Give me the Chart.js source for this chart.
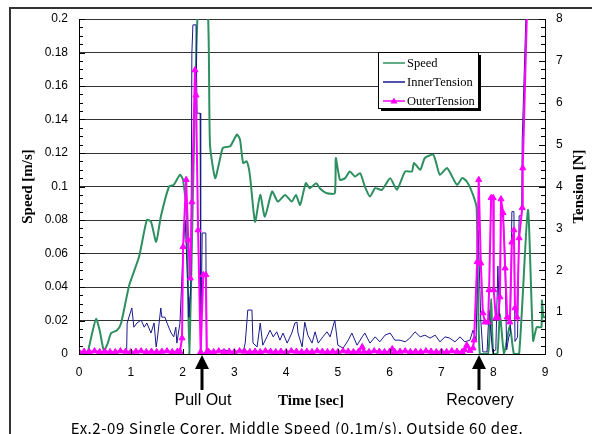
<!DOCTYPE html>
<html>
<head>
<meta charset="utf-8">
<script src="https://cdn.jsdelivr.net/npm/chart.js"></script>
<style>
  body { margin: 0; background: #fff; }
  #wrap { width: 592px; height: 434px; }
</style>
</head>
<body>
<div id="wrap"><canvas id="chart" width="592" height="434"></canvas></div>
<script>
// tick labels
const timeTicks = ['0', '1', '2', '3', '4', '5', '6', '7', '8', '9'];
const speedTicks = ['0', '0.02', '0.04', '0.06', '0.08', '0.1', '0.12', '0.14', '0.16', '0.18', '0.2'];
const tensionTicks = ['0', '1', '2', '3', '4', '5', '6', '7', '8'];

// Speed [m/s]
const speedTime = [0, 0.15, 0.25, 0.33, 0.40, 0.48, 0.55, 0.62, 0.73, 0.81, 0.97, 1.16, 1.31, 1.39, 1.49, 1.58, 1.74, 1.83, 1.95, 2.01,
    2.08, 2.13, 2.30, 2.48, 2.53, 2.63, 2.72, 2.78, 2.92, 3.05, 3.11, 3.17, 3.24, 3.30, 3.40, 3.50, 3.59, 3.73, 3.84, 3.98,
    4.11, 4.19, 4.27, 4.38, 4.46, 4.58, 4.65, 4.79, 4.94, 4.96, 5.04, 5.14, 5.23, 5.33, 5.43, 5.52, 5.62, 5.72, 5.85, 6.01,
    6.14, 6.30, 6.43, 6.47, 6.59, 6.68, 6.84, 6.89, 6.97, 7.11, 7.30, 7.40, 7.49, 7.61, 7.68, 7.74, 7.90, 7.96, 8.00, 8.08,
    8.13, 8.21, 8.32, 8.40, 8.50, 8.67, 8.77, 8.84, 8.93, 8.94, 8.97, 9.00];
const speedValue = [0, 0, 0.012, 0.021, 0.014, 0.002, 0.006, 0.0125, 0.014, 0.018, 0.041, 0.058, 0.080, 0.079, 0.067, 0.082, 0.100, 0.101, 0.107, 0.104,
    0.082, 0, 0.21, 0.21, 0.125, 0.105, 0.116, 0.123, 0.124, 0.131, 0.128, 0.114, 0.115, 0.107, 0.079, 0.095, 0.082, 0.097, 0.091, 0.095,
    0.091, 0.095, 0.089, 0.102, 0.099, 0.102, 0.099, 0.096, 0.096, 0.117, 0.104, 0.105, 0.109, 0.106, 0.108, 0.100, 0.094, 0.099, 0.098, 0.105,
    0.098, 0.109, 0.109, 0.114, 0.110, 0.117, 0.119, 0.115, 0.107, 0.111, 0.101, 0.105, 0.103, 0.095, 0.087, 0, 0, 0.033, 0, 0,
    0.024, 0, 0.017, 0, 0, 0.086, 0.008, 0.016, 0.016, 0.032, 0.022, 0.022];

// InnerTension [N]
const innerTime = [0, 0.5, 0.92, 0.93, 1.02, 1.06, 1.12, 1.20, 1.26, 1.31, 1.39, 1.45, 1.49, 1.51, 1.58, 1.60, 1.66, 1.70, 1.78, 1.83,
    1.87, 1.89, 1.95, 2.01, 2.05, 2.11, 2.12, 2.16, 2.18, 2.20, 2.26, 2.28, 2.34, 2.35, 2.38, 2.45, 2.46, 2.6, 2.8, 3.0,
    3.18, 3.21, 3.26, 3.34, 3.36, 3.44, 3.50, 3.55, 3.63, 3.69, 3.75, 3.82, 3.88, 3.94, 4.02, 4.11, 4.17, 4.21, 4.23, 4.31,
    4.36, 4.42, 4.50, 4.56, 4.62, 4.71, 4.79, 4.85, 4.94, 5.00, 5.10, 5.20, 5.27, 5.37, 5.47, 5.52, 5.62, 5.72, 5.81, 5.91,
    6.01, 6.10, 6.20, 6.30, 6.39, 6.49, 6.59, 6.68, 6.78, 6.88, 6.97, 7.07, 7.16, 7.26, 7.36, 7.45, 7.55, 7.61, 7.67, 7.71,
    7.76, 7.80, 7.88, 7.92, 7.95, 7.99, 8.05, 8.09, 8.12, 8.15, 8.19, 8.22, 8.26, 8.30, 8.33, 8.36, 8.40, 8.42, 8.47, 8.50,
    8.55, 8.56, 8.63, 8.75, 8.80];
const innerValue = [0.05, 0.05, 0.05, 0.74, 1.10, 0.64, 0.74, 0.81, 0.64, 0.74, 0.50, 0.74, 0.17, 0.33, 1.10, 0.88, 0.88, 0.74, 0.50, 0.41,
    0.64, 0.26, 0.74, 2.48, 3.20, 1.36, 0.88, 1.60, 7.19, 7.86, 7.86, 5.75, 5.75, 0.10, 2.89, 2.89, 0.10, 0.05, 0.10, 0.05,
    0.10, 0.26, 1.05, 1.05, 0.26, 0.17, 0.74, 0.21, 0.41, 0.57, 0.41, 0.53, 0.33, 0.50, 0.26, 0.50, 0.74, 0.76, 0.50, 0.17,
    0.76, 0.45, 0.26, 0.53, 0.26, 0.41, 0.53, 0.41, 0.81, 0.21, 0.14, 0.33, 0.50, 0.21, 0.41, 0.50, 0.26, 0.41, 0.29, 0.45,
    0.50, 0.33, 0.33, 0.29, 0.38, 0.53, 0.41, 0.45, 0.38, 0.45, 0.29, 0.41, 0.38, 0.29, 0.41, 0.29, 0.33, 0.57, 0.33, 2.96,
    0.81, 0.05, 0.05, 1.05, 0.60, 0.05, 0.10, 2.10, 0.90, 3.30, 3.30, 2.60, 0.10, 0.40, 0.50, 3.40, 3.40, 0.30, 0.40, 3.30,
    3.30, 5.10, 8.00, 8.05, 8.60];

// OuterTension [N]
const outerTime = [0, 0.1, 0.2, 0.3, 0.4, 0.5, 0.6, 0.7, 0.8, 0.9, 1.0, 1.1, 1.2, 1.3, 1.4, 1.5, 1.6, 1.7, 1.8, 1.9,
    1.95, 1.99, 2.01, 2.07, 2.11, 2.15, 2.18, 2.24, 2.26, 2.30, 2.35, 2.40, 2.45, 2.47,
    2.5, 2.6, 2.7, 2.8, 2.9, 3.0, 3.1, 3.2, 3.3, 3.4, 3.5, 3.6, 3.7, 3.8, 3.9, 4.0, 4.1, 4.2, 4.3, 4.4,
    4.5, 4.6, 4.7, 4.8, 4.9, 5.0, 5.1, 5.2, 5.3, 5.4, 5.47, 5.5, 5.6, 5.7, 5.8, 5.9, 6.0, 6.05, 6.1, 6.2,
    6.3, 6.4, 6.5, 6.6, 6.7, 6.8, 6.9, 7.0, 7.1, 7.2, 7.3, 7.4, 7.45, 7.49, 7.55, 7.61, 7.63, 7.69, 7.72, 7.76,
    7.80, 7.84, 7.90, 7.92, 7.96, 8.00, 8.01, 8.05, 8.09, 8.13, 8.15, 8.19, 8.23, 8.27, 8.32, 8.36, 8.40, 8.42, 8.46, 8.50,
    8.56, 8.57, 8.65, 9.00];
const outerValue = [0.05, 0.06, 0.05, 0.07, 0.05, 0.06, 0.05, 0.05, 0.07, 0.06, 0.05, 0.06, 0.07, 0.05, 0.06, 0.05, 0.06, 0.07, 0.05, 0.06,
    0.06, 0.38, 2.56, 4.16, 2.72, 1.81, 3.63, 6.78, 6.18, 2.96, 0.05, 1.89, 1.89, 0.05,
    0.06, 0.05, 0.07, 0.05, 0.06, 0.05, 0.07, 0.06, 0.05, 0.06, 0.05, 0.07, 0.06, 0.05, 0.06, 0.05, 0.07, 0.06, 0.05, 0.06,
    0.05, 0.07, 0.06, 0.05, 0.06, 0.05, 0.07, 0.06, 0.05, 0.06, 0.17, 0.06, 0.05, 0.07, 0.06, 0.05, 0.06, 0.12, 0.05, 0.06,
    0.07, 0.05, 0.06, 0.05, 0.07, 0.06, 0.05, 0.06, 0.05, 0.07, 0.06, 0.05, 0.10, 0.21, 0.08, 0.14, 0.33, 2.20, 4.16, 2.17,
    0.98, 0.76, 0.76, 1.53, 3.73, 3.73, 1.53, 0.86, 0.86, 1.36, 3.70, 3.37, 2.05, 0.88, 0.76, 2.67, 2.96, 1.10, 0.88, 2.77,
    3.49, 4.44, 8.10, 9.00];

const pairs = (xs, ys) => xs.map((x, i) => ({ x: x, y: ys[i] }));

const serif = '"Liberation Serif", "Times New Roman", serif';
const sans = '"Liberation Sans", Arial, sans-serif';

Chart.defaults.font.family = sans;
Chart.defaults.font.size = 12;
Chart.defaults.color = '#000';

// Frame, inner ticks, legend box, titles and arrows
const decorPlugin = {
    id: 'decor',
    afterDraw(chart) {
        const ctx = chart.ctx;
        const area = chart.chartArea;
        const ya = chart.scales.y, yr = chart.scales.y1, xa = chart.scales.x;
        ctx.save();

        // outer frame (top and left)
        ctx.strokeStyle = '#333';
        ctx.lineWidth = 2;
        ctx.beginPath();
        ctx.moveTo(10, 434);
        ctx.lineTo(10, 8);
        ctx.lineTo(592, 8);
        ctx.stroke();

        // inward ticks
        ctx.strokeStyle = '#000';
        ctx.lineWidth = 1;
        ctx.beginPath();
        for (let i = 0; i <= 40; i++) {
            const y = Math.round(ya.getPixelForValue(i * 0.005)) + 0.5;
            const len = i % 4 === 0 ? 6 : 4;
            ctx.moveTo(area.left, y);
            ctx.lineTo(area.left + len, y);
        }
        for (let i = 0; i <= 40; i++) {
            const y = Math.round(yr.getPixelForValue(i * 0.2)) + 0.5;
            const len = i % 5 === 0 ? 6 : 4;
            ctx.moveTo(area.right, y);
            ctx.lineTo(area.right - len, y);
        }
        timeTicks.forEach(t => {
            const x = Math.round(xa.getPixelForValue(Number(t))) + 0.5;
            ctx.moveTo(x, area.bottom);
            ctx.lineTo(x, area.bottom - 5);
        });
        ctx.stroke();

        // legend
        const lx = 378, ly = 52, lw = 100, lh = 56;
        ctx.fillStyle = '#000';
        ctx.fillRect(lx + 3, ly + 3, lw, lh);
        ctx.fillStyle = '#fff';
        ctx.fillRect(lx, ly, lw, lh);
        ctx.strokeStyle = '#000';
        ctx.strokeRect(lx + 0.5, ly + 0.5, lw, lh);
        const items = [
            { label: 'Speed', color: '#2e9060', marker: false },
            { label: 'InnerTension', color: '#1a1a8c', marker: false },
            { label: 'OuterTension', color: '#ff00ff', marker: true }
        ];
        ctx.font = '12.5px ' + serif;
        ctx.textBaseline = 'middle';
        ctx.textAlign = 'left';
        items.forEach((it, i) => {
            const y = ly + 11 + i * 19;
            ctx.strokeStyle = it.color;
            ctx.lineWidth = 1.5;
            ctx.beginPath();
            ctx.moveTo(lx + 5, y);
            ctx.lineTo(lx + 27, y);
            ctx.stroke();
            if (it.marker) {
                ctx.fillStyle = it.color;
                ctx.beginPath();
                ctx.moveTo(lx + 16, y - 3.5);
                ctx.lineTo(lx + 19.5, y + 2.5);
                ctx.lineTo(lx + 12.5, y + 2.5);
                ctx.closePath();
                ctx.fill();
            }
            ctx.fillStyle = '#000';
            ctx.fillText(it.label, lx + 29, y + 1);
        });

        // axis titles
        const midY = (area.top + area.bottom) / 2;
        ctx.font = 'bold 15px ' + serif;
        ctx.textAlign = 'center';
        ctx.textBaseline = 'middle';
        ctx.save();
        ctx.translate(28, midY);
        ctx.rotate(-Math.PI / 2);
        ctx.fillText('Speed [m/s]', 0, 0);
        ctx.restore();
        ctx.save();
        ctx.translate(579, midY);
        ctx.rotate(-Math.PI / 2);
        ctx.fillText('Tension [N]', 0, 0);
        ctx.restore();
        ctx.fillText('Time [sec]', 311, 401);

        // event arrows
        [{ t: 2.37, text: 'Pull Out' }, { t: 7.72, text: 'Recovery' }].forEach(a => {
            const x = Math.round(xa.getPixelForValue(a.t));
            ctx.strokeStyle = '#000';
            ctx.fillStyle = '#000';
            ctx.lineWidth = 3;
            ctx.beginPath();
            ctx.moveTo(x, 366);
            ctx.lineTo(x, 390);
            ctx.stroke();
            ctx.beginPath();
            ctx.moveTo(x, 355);
            ctx.lineTo(x + 7, 369);
            ctx.lineTo(x - 7, 369);
            ctx.closePath();
            ctx.fill();
            ctx.font = '16px ' + sans;
            ctx.fillText(a.text, x + 1, 401);
        });

        // caption
        ctx.font = '15px "Noto Sans CJK JP", ' + sans;
        ctx.letterSpacing = '0.6px';
        ctx.fillText('Ex.2-09 Single Corer, Middle Speed (0.1m/s), Outside 60 deg.', 297, 428);
        ctx.restore();
    }
};

new Chart(document.getElementById('chart').getContext('2d'), {
    type: 'line',
    data: {
        datasets: [
            {
                label: 'Speed',
                data: pairs(speedTime, speedValue),
                yAxisID: 'y',
                borderColor: '#2e9060',
                borderWidth: 2,
                pointRadius: 0,
                tension: 0.2,
                order: 3
            },
            {
                label: 'InnerTension',
                data: pairs(innerTime, innerValue),
                yAxisID: 'y1',
                borderColor: '#1a1a8c',
                borderWidth: 1,
                pointRadius: 0,
                order: 2
            },
            {
                label: 'OuterTension',
                data: pairs(outerTime, outerValue),
                yAxisID: 'y1',
                borderColor: '#ff00ff',
                backgroundColor: '#ff00ff',
                borderWidth: 2,
                pointStyle: 'triangle',
                pointRadius: 3.5,
                pointBorderWidth: 1,
                pointBorderColor: '#ff00ff',
                pointBackgroundColor: '#ff00ff',
                order: 1
            }
        ]
    },
    options: {
        responsive: false,
        animation: false,
        layout: { padding: { top: 19, left: 0, right: 0, bottom: 0 } },
        plugins: {
            legend: { display: false },
            tooltip: { enabled: false },
            title: { display: false }
        },
        scales: {
            x: {
                type: 'linear',
                min: 0,
                max: 9,
                afterBuildTicks: s => { s.ticks = timeTicks.map(t => ({ value: Number(t) })); },
                afterFit: s => { s.height = 80; },
                grid: { display: false, drawTicks: false },
                border: { display: true, color: '#000', width: 1 },
                ticks: { padding: 11, maxRotation: 0, callback: (v, i) => timeTicks[i] }
            },
            y: {
                position: 'left',
                min: 0,
                max: 0.2,
                afterBuildTicks: s => { s.ticks = speedTicks.map(t => ({ value: Number(t) })); },
                afterFit: s => { s.width = 79; },
                grid: { color: '#333', lineWidth: 1, drawTicks: false },
                border: { display: true, color: '#000', width: 1 },
                ticks: { padding: 11, callback: (v, i) => speedTicks[i] }
            },
            y1: {
                position: 'right',
                min: 0,
                max: 8,
                afterBuildTicks: s => { s.ticks = tensionTicks.map(t => ({ value: Number(t) })); },
                afterFit: s => { s.width = 47; },
                grid: { drawOnChartArea: false, drawTicks: false },
                border: { display: true, color: '#000', width: 1 },
                ticks: { padding: 11, callback: (v, i) => tensionTicks[i] }
            }
        }
    },
    plugins: [decorPlugin]
});
</script>
</body>
</html>
